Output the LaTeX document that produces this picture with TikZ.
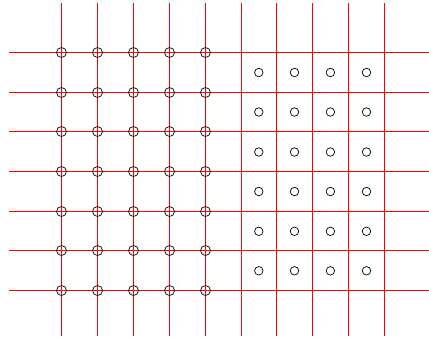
\documentclass[tikz,border=0pt]{standalone}
\definecolor{gridred}{RGB}{255,0,0}
\begin{document}
\begin{tikzpicture}[x=1bp,y=-1bp,
  gridline/.style={fill=gridred, draw=none},
  bigdot/.style={circle, draw=black, line width=0.7bp, minimum size=10bp, inner sep=0pt},
  smalldot/.style={circle, draw=black, line width=0.7bp, minimum size=8.5bp, inner sep=0pt}]
\useasboundingbox (0,0) rectangle (429,338);
% grid lines as thin filled bands
\foreach \y in {52.5,92.5,131.5,171.5,211.5,250.5,290.5}
  \fill[gridline] (9,\y-0.6) rectangle (429,\y+0.6);
\foreach \x in {61.5,97.5,133.5,169.5,205.5,241.5,276.5,312.5,348.5,384.5}
  \fill[gridline] (\x-0.6,3) rectangle (\x+0.6,336);
% circles at intersections (left)
\foreach \x [count=\i] in {61.5,97.5,133.5,169.5,205.5}
  \foreach \y [count=\j] in {52.5,92.5,131.5,171.5,211.5,250.5,290.5}
    \node[bigdot] (L\i-\j) at (\x,\y) {};
% circles in cell centres (right)
\foreach \x [count=\i] in {258.8,294.5,330.4,366.5}
  \foreach \y [count=\j] in {72.5,112,152,191.5,231.3,270.8}
    \node[smalldot] (R\i-\j) at (\x,\y) {};
\end{tikzpicture}
\end{document}
